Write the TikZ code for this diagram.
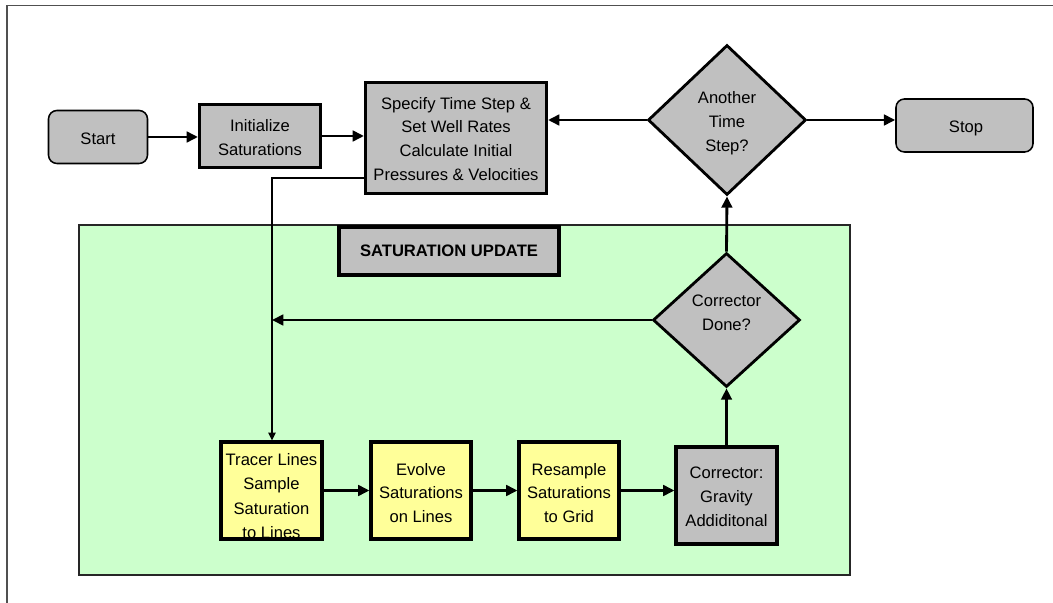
\documentclass[tikz,border=0pt]{standalone}
\usepackage{fontspec}
\setmainfont{Liberation Sans}
\usetikzlibrary{shapes.geometric,arrows.meta}
\definecolor{boxgray}{HTML}{C0C0C0}
\definecolor{stageyellow}{HTML}{FFFF99}
\definecolor{panelgreen}{HTML}{CCFFCC}
\definecolor{framegray}{HTML}{505050}
\newcommand{\pu}{0.025cm}
\begin{document}
\begin{tikzpicture}[x=0.025cm,y=-0.025cm,
  every node/.style={font=\fontsize{11.8}{17}\selectfont, align=center, inner sep=0pt},
  terminal/.style={draw, fill=boxgray, rounded corners=6pt, line width=1.1pt},
  process/.style={draw, fill=boxgray, line width=2.2pt},
  stagebox/.style={draw, fill=stageyellow, line width=2.2pt},
  decision/.style={draw, fill=boxgray, diamond, line width=2pt},
  flow/.style={line width=2pt, -{Triangle[length=8pt,width=7.5pt]}},
  feed/.style={line width=1.4pt, -{Triangle[length=5.5pt,width=5pt]}}
]
\useasboundingbox (0,0) rectangle (1053,603);

% outer frame (top and left edges)
\draw[framegray, line width=1.2pt] (7,603) -- (7,5.5) -- (1053,5.5);

% top row
\node[terminal, minimum width=99*\pu, minimum height=53*\pu] (start) at (98,137) {};
\node (starttext) at (98,139) {Start};
\node[process, minimum width=121*\pu, minimum height=63*\pu] (init) at (260,136) {};
\node (inittext) at (260,137.5) {Initialize\\Saturations};
\node[process, minimum width=181*\pu, minimum height=111*\pu] (spec) at (456,138) {};
\node (spectext) at (456,139) {Specify Time Step \&\\Set Well Rates\\Calculate Initial\\Pressures \& Velocities};
\node[decision, minimum width=158*\pu, minimum height=150*\pu] (more) at (727,120) {};
\node (moretext) at (727,123) {Another\\Time\\Step?};
\node[terminal, minimum width=137*\pu, minimum height=53*\pu] (stop) at (964.5,125.5) {};
\node (stoptext) at (966,128) {Stop};

% saturation update panel
\node[draw=black!85, fill=panelgreen, line width=1pt, minimum width=771*\pu, minimum height=350*\pu] (panel) at (464.5,400) {};
\node[process, minimum width=220*\pu, minimum height=48*\pu, font=\fontsize{11.8}{17}\selectfont\bfseries] (title) at (449,251) {SATURATION UPDATE};

\node[decision, minimum width=147*\pu, minimum height=134*\pu] (done) at (726.5,320) {};
\node (donetext) at (726.5,313) {Corrector\\Done?};

\node[stagebox, minimum width=101*\pu, minimum height=97*\pu] (tracer) at (271.5,490.5) {};
\node[font=\fontsize{11.8}{17.4}\selectfont] (tracertext) at (271.5,496) {Tracer Lines\\Sample\\Saturation\\to Lines};
\node[stagebox, minimum width=100*\pu, minimum height=97*\pu] (evolve) at (421,490.5) {};
\node (evolvetext) at (421,493) {Evolve\\Saturations\\on Lines};
\node[stagebox, minimum width=100*\pu, minimum height=97*\pu] (resample) at (569,490.5) {};
\node (resampletext) at (569,493) {Resample\\Saturations\\to Grid};
\node[process, minimum width=101*\pu, minimum height=97*\pu] (corr) at (726.5,495.5) {};
\node (corrtext) at (726.5,497) {Corrector:\\Gravity\\Addiditonal};

% connectors
\coordinate (bend) at (272,178);
\draw[flow] (start.east) -- (start.east -| init.west);
\draw[flow] (init.east) -- (init.east -| spec.west);
\draw[flow] (more.west) -- (more.west -| spec.east);
\draw[flow] (more.east) -- (more.east -| stop.west);
\draw[feed] (bend -| spec.west) -- (bend) -- (bend |- tracer.north);
\draw[flow] (done.west) -- (done.west -| bend);
\draw[flow] (tracer.east) -- (tracer.east -| evolve.west);
\draw[flow] (evolve.east) -- (evolve.east -| resample.west);
\draw[flow] (resample.east) -- (resample.east -| corr.west);
\draw[flow] (corr.north) -- (done.south);
\draw[flow] (done.north) -- (more.south);
\end{tikzpicture}
\end{document}
